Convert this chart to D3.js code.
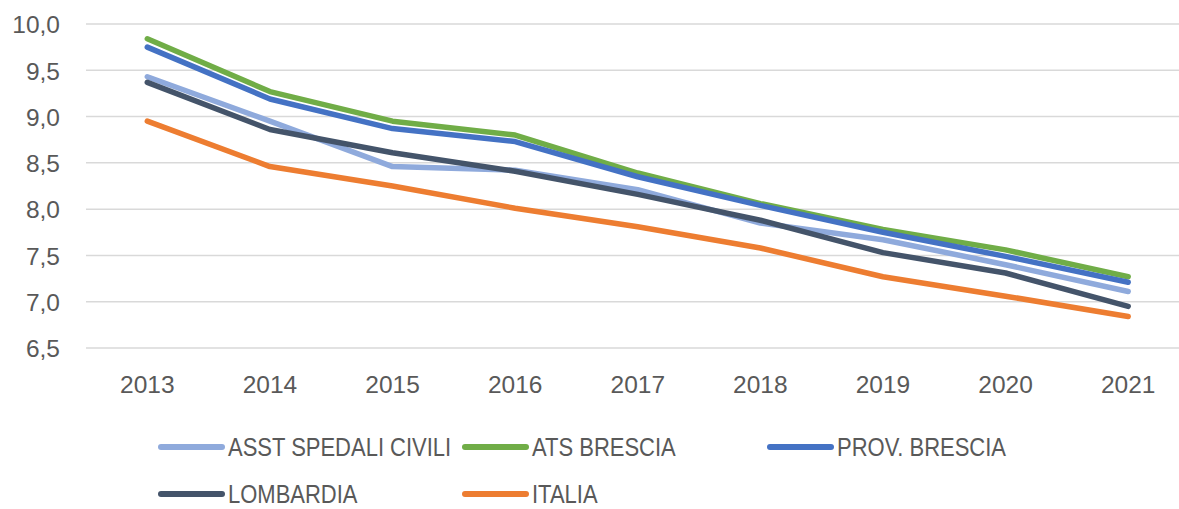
<!DOCTYPE html>
<html>
<head>
<meta charset="utf-8">
<script src="https://cdn.jsdelivr.net/npm/d3@7"></script>
<style>
  body { margin: 0; background: #fff; }
  text { font-family: "Liberation Sans", Arial, sans-serif; fill: #595959; }
</style>
</head>
<body>
<div id="chart"></div>
<script>
var years = ['2013', '2014', '2015', '2016', '2017', '2018', '2019', '2020', '2021']
var yTicks = [6.5, 7.0, 7.5, 8.0, 8.5, 9.0, 9.5, 10.0]
var seriesNames = ['ASST SPEDALI CIVILI', 'ATS BRESCIA', 'PROV. BRESCIA', 'LOMBARDIA', 'ITALIA']
var seriesColors = ['#8faadc', '#70ad47', '#4472c4', '#44546a', '#ed7d31']

var asst = [9.43, 8.95, 8.46, 8.42, 8.21, 7.85, 7.67, 7.40, 7.11]
var ats = [9.84, 9.27, 8.95, 8.80, 8.39, 8.06, 7.78, 7.56, 7.27]
var prov = [9.75, 9.19, 8.87, 8.73, 8.35, 8.04, 7.75, 7.49, 7.21]
var lombardia = [9.37, 8.86, 8.61, 8.41, 8.16, 7.88, 7.53, 7.31, 6.95]
var italia = [8.95, 8.46, 8.25, 8.01, 7.81, 7.58, 7.27, 7.06, 6.84]

var allValues = [asst, ats, prov, lombardia, italia]

var width = 1179, height = 509

var svg = d3.select('#chart')
    .append('svg')
    .attr('width', width)
    .attr('height', height)

var x = d3.scaleBand()
    .domain(years)
    .range([86, 1189.5])

var y = d3.scaleLinear()
    .domain([6.5, 10])
    .range([348, 24])

var fmt = v => d3.format('.1f')(v).replace('.', ',')

// gridlines
svg.append('g')
    .selectAll('line')
    .data(yTicks)
    .enter()
    .append('line')
    .attr('x1', 86)
    .attr('x2', 1189)
    .attr('y1', d => y(d))
    .attr('y2', d => y(d))
    .attr('stroke', '#d9d9d9')
    .attr('stroke-width', 1.5)

// y axis labels
var yAxis = svg.append('g')
    .attr('transform', 'translate(60,0)')
    .call(d3.axisLeft(y).tickValues(yTicks).tickFormat(fmt).tickSize(0).tickPadding(0))
yAxis.select('.domain').remove()
yAxis.selectAll('text')
    .attr('font-size', 24.5)
    .attr('font-family', null)
    .attr('fill', null)
    .attr('dy', '0.36em')

// x axis labels
var xAxis = svg.append('g')
    .attr('transform', 'translate(0,375)')
    .call(d3.axisBottom(x).tickSize(0).tickPadding(0))
xAxis.select('.domain').remove()
xAxis.selectAll('text')
    .attr('font-size', 24.5)
    .attr('font-family', null)
    .attr('fill', null)
    .attr('dy', '0.72em')

var line = d3.line()
    .x((d, i) => x(years[i]) + x.bandwidth() / 2)
    .y(d => y(d))

svg.append('g')
    .selectAll('path')
    .data(allValues)
    .enter()
    .append('path')
    .attr('d', line)
    .attr('fill', 'none')
    .attr('stroke', (d, i) => seriesColors[i])
    .attr('stroke-width', 5.5)
    .attr('stroke-linejoin', 'round')
    .attr('stroke-linecap', 'round')

// legend
var legendPos = [[158, 447], [462, 447], [767, 447], [158, 494], [462, 494]]
var legend = svg.append('g')
    .selectAll('g')
    .data(seriesNames)
    .enter()
    .append('g')
    .attr('transform', (d, i) => `translate(${legendPos[i]})`)

legend.append('line')
    .attr('x1', 3)
    .attr('x2', 64)
    .attr('stroke', (d, i) => seriesColors[i])
    .attr('stroke-width', 6)
    .attr('stroke-linecap', 'round')

// narrow the labels a bit, the original font is condensed
legend.append('text')
    .attr('transform', 'translate(70,0) scale(0.88,1)')
    .attr('dy', '0.36em')
    .attr('font-size', 25)
    .text(d => d)
</script>
</body>
</html>
